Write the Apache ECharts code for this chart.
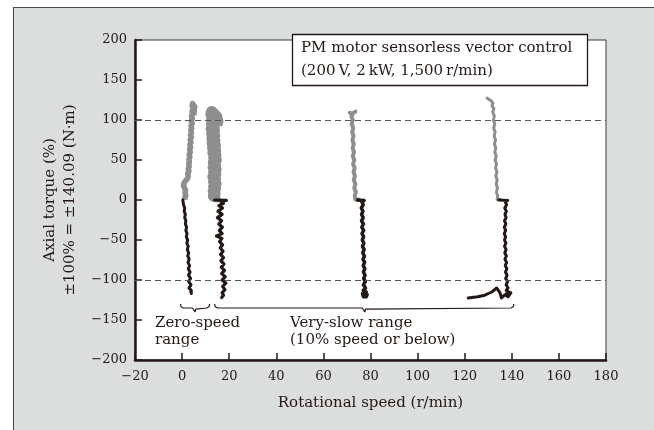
<!DOCTYPE html>
<html><head><meta charset="utf-8">
<script src="https://cdn.jsdelivr.net/npm/echarts@6/dist/echarts.min.js"></script>
<style>
html,body{margin:0;padding:0;background:#fff;}
#panel{position:absolute;left:13px;top:7px;width:700px;height:500px;background:#dcdddd;border-left:1.5px solid #4a4a4a;border-top:1.5px solid #4a4a4a;}
#c{position:absolute;left:0;top:0;width:654px;height:430px;}
</style>
</head><body>
<div id="panel"></div>
<div id="c"></div>
<script>
const FONT = 'DejaVu Serif';
const INK = '#231815';
const GRAY = '#8e8e8e';

// x-axis and y-axis ranges / ticks
const xRange = [-20, 180, 20];
const yRange = [-200, 200, 50];
const refLines = [100, -100];

// Zero-speed range traces (rotational speed r/min, axial torque %)
const grayZeroA = [[1.4,0],[1.1,3],[1.6,6],[1.2,9],[1.5,12],[1.0,15],[0.6,18],[0.3,20],[0.9,22],[1.6,24],[2.3,27],[2.6,30],[2.4,33],[2.9,36],[2.6,39],[3.0,42],[2.8,45],[3.1,48],[2.9,51],[3.3,54],[3.0,57],[3.5,60],[3.2,63],[3.6,66],[3.3,69],[3.8,72],[3.4,75],[3.9,78],[3.6,81],[4.0,84],[3.7,87],[4.1,90],[3.8,93],[4.3,96],[3.9,99],[4.4,102],[4.0,105],[4.6,108],[4.2,111],[4.8,114],[4.3,117],[4.9,119],[4.4,120.5],[5.4,117],[5.2,112],[4.9,106]];
const blackZeroA = [[0.3,0],[0.9,-2],[0.6,-6],[1.1,-10],[0.9,-14],[1.4,-18],[1.1,-22],[1.6,-26],[1.4,-30],[1.9,-34],[1.6,-38],[2.1,-42],[1.8,-46],[2.4,-50],[2.0,-54],[2.6,-58],[2.2,-62],[2.8,-66],[2.4,-70],[3.0,-74],[2.5,-78],[3.2,-82],[2.6,-86],[3.4,-90],[2.7,-94],[3.6,-98],[2.8,-102],[3.8,-106],[2.9,-110],[3.9,-113],[3.2,-115],[3.9,-117],[3.6,-112]];
const grayZeroB = [[16.2,5],[15.0,4.5],[13.5,5],[13.8,8],[13.4,11],[14.0,14],[13.6,17],[14.2,20],[13.5,23],[14.0,26],[13.3,29],[14.1,32],[13.6,35],[14.2,38],[13.4,41],[14.0,44],[13.5,47],[14.3,50],[13.6,53],[14.1,56],[13.3,59],[14.0,62],[13.2,65],[13.9,68],[13.0,71],[13.7,74],[12.9,77],[13.6,80],[12.8,83],[13.5,86],[12.6,89],[13.4,92],[12.7,95],[13.6,98],[12.8,101],[13.3,104],[12.4,107],[12.6,110],[12.0,111],[12.3,112],[14.5,104],[15.0,98],[14.6,94]];
const blackZeroB = [[13.8,0],[18.8,-0.5],[16.5,-1.5],[17.6,-4],[15.6,-7],[17.2,-10],[15.2,-14],[17.0,-18],[15.0,-22],[16.8,-26],[15.6,-30],[17.1,-34],[15.8,-38],[17.0,-42],[14.6,-45],[16.9,-48],[15.9,-52],[17.2,-56],[16.2,-60],[17.4,-64],[16.3,-68],[17.6,-72],[16.5,-76],[17.8,-80],[16.6,-84],[18.0,-88],[16.8,-92],[18.3,-96],[17.0,-100],[18.6,-104],[17.2,-108],[18.2,-112],[17.0,-116],[17.6,-119],[16.8,-122],[17.3,-120]];

// Very-slow range traces
const graySlowA = [[74.8,0.5],[73.6,0.5],[73.3,5],[73.8,10],[73.1,15],[73.6,20],[72.9,25],[73.4,30],[72.8,35],[73.3,40],[72.6,45],[73.1,50],[72.5,55],[73.0,60],[72.4,65],[72.9,70],[72.3,75],[72.8,80],[72.2,85],[72.7,90],[72.0,95],[72.5,100],[71.9,104],[72.4,107],[71.2,109],[70.8,110.5],[72.3,108],[73.6,110.5]];
const blackSlowA = [[74.5,0],[77.3,-0.5],[76.3,-2],[76.9,-6],[76.1,-10],[76.8,-14],[76.2,-18],[76.9,-22],[76.2,-26],[77.0,-30],[76.3,-34],[77.1,-38],[76.4,-42],[77.1,-46],[76.5,-50],[77.2,-54],[76.6,-58],[77.3,-62],[76.7,-66],[77.4,-70],[76.8,-74],[77.5,-78],[76.9,-82],[77.6,-86],[77.0,-90],[77.7,-94],[77.1,-98],[77.8,-102],[77.0,-106],[77.9,-110],[76.9,-113],[78.2,-115],[76.6,-117],[77.0,-121],[78.2,-121],[78.6,-118],[77.6,-116]];
const graySlowB = [[135.0,0.5],[133.8,0.5],[134.0,5],[133.5,10],[133.9,15],[133.4,20],[133.8,25],[133.2,30],[133.7,35],[133.1,40],[133.5,45],[132.9,50],[133.4,55],[132.8,60],[133.2,65],[132.6,70],[133.1,75],[132.5,80],[132.9,85],[132.3,90],[132.8,95],[132.2,100],[132.6,105],[131.9,110],[132.4,114],[131.6,118],[132.0,121],[131.2,124],[130.2,126],[129.5,127.5]];
const blackSlowB = [[134.5,0],[138.3,-0.5],[137.2,-2],[137.8,-6],[137.0,-10],[137.7,-14],[137.1,-18],[137.6,-22],[136.9,-26],[137.5,-30],[136.8,-34],[137.4,-38],[136.8,-42],[137.4,-46],[136.9,-50],[137.5,-54],[136.9,-58],[137.6,-62],[137.0,-66],[137.7,-70],[137.1,-74],[137.8,-78],[137.2,-82],[137.9,-86],[137.3,-90],[138.0,-94],[137.4,-98],[138.2,-102],[137.6,-106],[138.4,-110],[137.6,-113],[138.8,-115],[137.8,-117],[139.6,-116],[138.4,-121],[137.0,-118.5],[135.6,-122.5],[135.0,-116],[133.6,-110],[131.5,-115],[128.5,-119],[125.5,-121],[121.5,-122.5]];

// Range braces (annotation)
const zeroBrace = [[-0.7,-130],[-0.4,-133.5],[0.5,-135],[4.4,-135],[5.2,-136.5],[5.5,-140],[5.8,-136.5],[6.6,-135],[10.5,-135],[11.4,-133.5],[11.7,-130]];
const slowBrace = [[13.8,-130],[14.1,-133.5],[15,-135],[76.5,-135],[77.3,-136.5],[77.6,-140],[77.9,-136.5],[78.7,-135],[139.7,-135],[140.6,-133.5],[140.9,-130]];

const traces = [
  [grayZeroA, GRAY, 5.5, 'butt'], [grayZeroB, GRAY, 12, 'butt'], [graySlowA, GRAY, 4, 'round'], [graySlowB, GRAY, 3, 'round'],
  [blackZeroA, INK, 3, 'round'], [blackZeroB, INK, 3.2, 'round'], [blackSlowA, INK, 3.5, 'round'], [blackSlowB, INK, 3, 'round']
];

const chart = echarts.init(document.getElementById('c'), null, {renderer: 'canvas'});
const series = traces.map(([d, c, w, cap]) => ({
  type: 'line', data: d, showSymbol: false, symbol: 'none', silent: true,
  lineStyle: {color: c, width: w, join: 'round', cap: cap}, z: 3
}));
series.push({
  type: 'line', data: [], silent: true,
  markLine: {
    silent: true, symbol: ['none', 'none'], label: {show: false},
    lineStyle: {color: '#555', width: 1, type: [6, 4]},
    data: refLines.map(v => ({yAxis: v}))
  }
});
[zeroBrace, slowBrace].forEach(b => series.push({
  type: 'line', data: b, showSymbol: false, symbol: 'none', silent: true,
  lineStyle: {color: INK, width: 1.2}, z: 3
}));

const txt = (text, x, y, size) => ({
  type: 'text', x, y, silent: true, z: 10,
  style: {text, fill: INK, font: size + 'px "' + FONT + '"', textAlign: 'left', textVerticalAlign: 'middle'}
});

chart.setOption({
  animation: false,
  backgroundColor: 'transparent',
  grid: {left: 135, right: 48, top: 40, bottom: 70, show: true, backgroundColor: '#fff', borderColor: '#3a3a3a', borderWidth: 1},
  xAxis: {
    type: 'value', min: xRange[0], max: xRange[1], interval: xRange[2],
    name: 'Rotational speed (r/min)', nameLocation: 'middle', nameGap: 36,
    nameTextStyle: {fontFamily: FONT, fontSize: 15, color: INK},
    axisLine: {onZero: false, lineStyle: {color: INK, width: 2.5}},
    axisTick: {inside: true, length: 7, lineStyle: {color: INK, width: 1.5}},
    axisLabel: {fontFamily: FONT, fontSize: 13, color: INK, margin: 10, formatter: v => v < 0 ? '\u2212' + Math.abs(v) : String(v)},
    splitLine: {show: false}
  },
  yAxis: {
    type: 'value', min: yRange[0], max: yRange[1], interval: yRange[2],
    name: 'Axial torque (%)\n\u00b1100% = \u00b1140.09 (N\u00b7m)', nameLocation: 'middle', nameRotate: 90, nameGap: 49,
    nameTextStyle: {fontFamily: FONT, fontSize: 15, lineHeight: 20, color: INK},
    axisLine: {onZero: false, lineStyle: {color: INK, width: 2.5}},
    axisTick: {inside: true, length: 7, lineStyle: {color: INK, width: 1.5}},
    axisLabel: {fontFamily: FONT, fontSize: 13, color: INK, margin: 8, formatter: v => v < 0 ? '\u2212' + Math.abs(v) : String(v)},
    splitLine: {show: false}
  },
  graphic: [
    {type: 'rect', shape: {x: 292.5, y: 34.5, width: 295, height: 51}, style: {fill: '#fff', stroke: INK, lineWidth: 1.3}, z: 9, silent: true},
    txt('PM motor sensorless vector control', 301, 48, 15),
    txt('(200\u2009V, 2\u2009kW, 1,500\u2009r/min)', 301, 71, 15),
    txt('Zero-speed', 155, 323, 15),
    txt('range', 155, 340, 15),
    txt('Very-slow range', 290, 323, 15),
    txt('(10% speed or below)', 290, 340, 15)
  ],
  series
});
</script>
</body></html>
